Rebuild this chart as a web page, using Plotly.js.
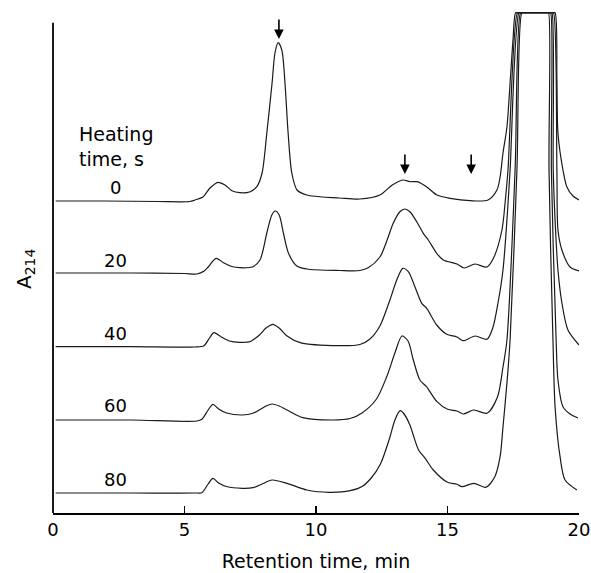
<!DOCTYPE html>
<html>
<head>
<meta charset="utf-8">
<script src="https://cdn.plot.ly/plotly-3.0.1.min.js"></script>
<style>html,body{margin:0;padding:0;background:#fff;}#chart{width:591px;height:573px;}</style>
</head>
<body>
<div id="chart"></div>
<script>
// Retention time (min) and stacked A214 signal (arbitrary units) for each heating time
const heatingTimes = ['0', '20', '40', '60', '80'];

const x0 = [0.1, 2.0, 4.0, 5.2, 5.4, 5.7, 5.97, 6.27, 6.54, 6.8, 7.1, 7.5, 7.75, 7.95, 8.13, 8.33, 8.44, 8.56, 8.7, 8.82, 8.94, 9.08, 9.28, 9.65, 10.27, 10.9, 11.67, 12.43, 12.9, 13.3, 13.57, 13.84, 14.2, 14.6, 15.1, 15.86, 16.54, 16.88, 17.0, 17.11, 17.26, 17.38, 17.49, 17.59, 17.66, 19.02, 19.09, 19.16, 19.2, 19.39, 19.54, 19.77, 20.0];
const y0 = [312, 312, 311.5, 311.5, 313, 316, 325, 330.7, 328, 322.3, 320.3, 321.3, 326.3, 340, 380, 430, 460, 470.3, 463, 430, 380, 340, 323, 318, 316, 315, 314, 318, 328, 333, 331.3, 331.3, 326.3, 318, 314.7, 312.3, 313, 323, 336, 360, 386, 430, 473, 500.3, 500.3, 500.3, 500.3, 433, 380, 343, 326, 317, 313];

const x20 = [0.1, 3.0, 5.0, 5.47, 5.75, 5.9, 6.2, 6.5, 6.8, 7.1, 7.6, 7.87, 8.13, 8.32, 8.45, 8.6, 8.76, 8.95, 9.27, 9.65, 10.9, 11.67, 12.0, 12.43, 12.69, 12.94, 13.19, 13.38, 13.57, 13.83, 14.08, 14.27, 14.59, 14.84, 15.36, 15.63, 16.05, 16.5, 16.75, 17.07, 17.2, 17.3, 17.66, 17.74, 18.98, 19.03, 19.16, 19.2, 19.35, 19.66, 20.0];
const y20 = [240, 240, 239.5, 239, 242, 246, 254.7, 250, 246.5, 245.3, 246.3, 253, 280, 298, 302, 298, 280, 260, 247, 244, 242.5, 242.5, 245.5, 256, 272, 290, 301.3, 304, 301.3, 291.3, 279.7, 273, 259.7, 253, 249, 245, 249, 246, 255, 283, 313, 343, 500.3, 500.3, 500.3, 500.3, 343, 283, 263, 246, 242];

const x40 = [0.1, 3.0, 5.4, 5.74, 5.95, 6.12, 6.4, 6.7, 7.1, 7.5, 7.85, 8.1, 8.36, 8.6, 8.9, 9.4, 10.9, 11.67, 12.05, 12.43, 12.81, 13.07, 13.3, 13.51, 13.76, 14.02, 14.21, 14.59, 14.97, 15.36, 15.6, 16.05, 16.5, 16.72, 16.92, 17.11, 17.26, 17.38, 17.72, 17.8, 18.93, 18.97, 19.02, 19.09, 19.2, 19.35, 19.58, 20.0];
const y40 = [166.3, 166.3, 166, 167.3, 175, 180.3, 176, 172, 170.7, 171.5, 178, 185, 188.7, 185, 177, 170.3, 167.3, 168.5, 174, 187, 213, 233, 244.7, 241.3, 226.3, 209.7, 204.7, 188, 178.7, 176, 172.3, 177, 173.7, 185, 210, 243, 293, 343, 500.3, 500.3, 500.3, 500.3, 343, 293, 243, 210, 183, 168];

const x60 = [0.1, 3.0, 5.47, 5.66, 5.9, 6.08, 6.3, 6.6, 7.2, 7.6, 7.9, 8.1, 8.33, 8.6, 8.9, 9.5, 10.65, 11.3, 11.75, 12.3, 12.7, 13.0, 13.27, 13.5, 13.7, 13.95, 14.2, 14.6, 15.0, 15.36, 15.6, 16.0, 16.5, 16.9, 17.11, 17.26, 17.57, 17.78, 17.86, 18.88, 18.92, 18.95, 19.13, 19.2, 19.39, 19.66, 19.96];
const y60 = [93, 93, 92, 93.7, 103, 108.7, 104, 100, 98, 99.7, 104, 107, 109, 107, 103, 95.3, 93, 94.5, 100, 114, 137, 160, 177, 172, 153, 133, 126.3, 111.3, 103.7, 102, 99, 103, 99.7, 116, 146, 173, 343, 500.3, 500.3, 500.3, 500.3, 343, 173, 133, 106.3, 99, 95];

const x80 = [0.1, 3.0, 5.47, 5.66, 5.9, 6.08, 6.3, 6.6, 7.2, 7.6, 7.95, 8.33, 8.9, 9.65, 10.5, 11.3, 11.75, 12.1, 12.45, 12.8, 13.0, 13.2, 13.35, 13.57, 13.9, 14.15, 14.46, 15.0, 15.36, 15.55, 16.0, 16.45, 16.8, 17.0, 17.11, 17.26, 17.38, 17.64, 17.83, 17.91, 18.80, 18.84, 18.86, 19.01, 19.09, 19.28, 19.47, 19.92];
const y80 = [20, 20, 20, 20.3, 29, 34.7, 30, 26.5, 24.7, 25.3, 29, 33, 29.7, 23, 20.7, 22.3, 26.5, 35, 49, 75, 93, 102.3, 99, 88, 63, 54.7, 43, 30.7, 28.7, 26.3, 29.7, 25.7, 36.3, 56.3, 86, 130, 173, 343, 500.3, 500.3, 500.3, 500.3, 343, 173, 106.3, 56.3, 33, 23];

// label positions (retention time, signal) for the heating-time labels
const labelX = [2.36, 2.36, 2.36, 2.36, 2.36];
const labelY = [326, 253, 179.5, 107.5, 33.5];

// arrows marking peaks (retention time, signal at arrow tip)
const arrowX = [8.59, 13.38, 15.9];
const arrowY = [474, 339, 339];

const xTicks = [0, 5, 10, 15, 20];

const FONT = '"DejaVu Sans", Verdana, sans-serif';
const xs = [x0, x20, x40, x60, x80];
const ys = [y0, y20, y40, y60, y80];

const traces = xs.map((x, i) => ({
  x: x, y: ys[i], type: 'scatter', mode: 'lines',
  line: {color: '#1a1a1a', width: 1.2, shape: 'spline', smoothing: 0.8},
  hoverinfo: 'skip', showlegend: false, name: heatingTimes[i] + ' s'
}));

const annotations = [];
heatingTimes.forEach((t, i) => {
  annotations.push({x: labelX[i], y: labelY[i], xref: 'x', yref: 'y', text: t, showarrow: false,
    xanchor: 'center', yanchor: 'middle', font: {family: FONT, size: 18, color: '#000'}});
});
annotations.push({x: 0.91, y: 367, xref: 'x', yref: 'y', text: 'Heating<br>time, s', showarrow: false,
  xanchor: 'left', yanchor: 'middle', align: 'left', font: {family: FONT, size: 19, color: '#000'}});
arrowX.forEach((ax, i) => {
  annotations.push({x: ax, y: arrowY[i], xref: 'x', yref: 'y', text: '', showarrow: true,
    ax: 0, ay: -21, arrowhead: 2, arrowsize: 1.2, arrowwidth: 1.6, arrowcolor: '#000', standoff: 0});
});
annotations.push({x: 0, xref: 'paper', xshift: -28, y: 244, yref: 'y', text: 'A<sub>214</sub>',
  textangle: -90, showarrow: false, xanchor: 'center', yanchor: 'middle',
  font: {family: FONT, size: 20, color: '#000'}});

const layout = {
  width: 591, height: 573,
  margin: {l: 53, r: 12, t: 9, b: 60},
  paper_bgcolor: '#fff', plot_bgcolor: '#fff',
  showlegend: false,
  xaxis: {
    range: [0, 20], tickvals: xTicks, ticktext: xTicks.map(String),
    ticks: 'inside', ticklen: 7, tickwidth: 1.5, tickcolor: '#000',
    showline: true, linecolor: '#000', linewidth: 1.8,
    showgrid: false, zeroline: false,
    tickfont: {family: FONT, size: 18, color: '#000'},
    title: {text: 'Retention time, min', font: {family: FONT, size: 19, color: '#000'}, standoff: 15}
  },
  yaxis: {
    range: [0, 504], showticklabels: false, showgrid: false, zeroline: false,
    ticks: '', showline: false
  },
  shapes: [{type: 'line', xref: 'paper', x0: 0, x1: 0, yref: 'y', y0: 0, y1: 490.3,
    line: {color: '#000', width: 1.8}}],
  annotations: annotations
};

Plotly.newPlot('chart', traces, layout, {displayModeBar: false, staticPlot: true});
</script>
</body>
</html>
